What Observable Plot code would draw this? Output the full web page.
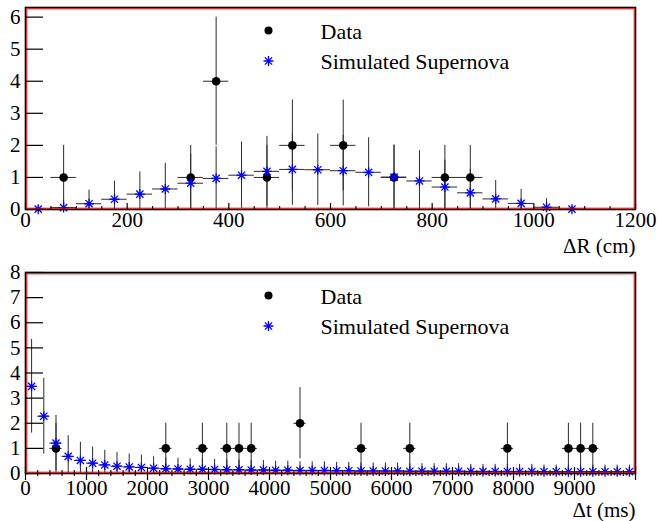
<!DOCTYPE html>
<html>
<head>
<meta charset="utf-8">
<script src="https://cdn.jsdelivr.net/npm/d3@7"></script>
<script src="https://cdn.jsdelivr.net/npm/@observablehq/plot@0.6"></script>
<style>
  html, body { margin: 0; padding: 0; background: #fff; }
  #chart svg { display: block; }
  #chart svg text { font-family: "Liberation Serif" !important; }
</style>
</head>
<body>
<div id="chart"></div>
<script>
// ---------- Top panel: ΔR (cm) ----------
const drSimX = [25, 75, 125, 175, 225, 275, 325, 375, 425, 475, 525, 575, 625, 675, 725, 775, 825, 875, 925, 975, 1025, 1075];
const drSimY = [0.01, 0.06, 0.18, 0.32, 0.48, 0.64, 0.82, 0.97, 1.07, 1.19, 1.25, 1.24, 1.21, 1.16, 1.01, 0.89, 0.70, 0.52, 0.33, 0.19, 0.07, 0.01];
const drDataX = [75, 325, 375, 475, 525, 625, 725, 825, 875];
const drDataY = [1, 1, 4, 1, 2, 2, 1, 1, 1];
const drBinWidth = 50;
const drXTicks = [0, 200, 400, 600, 800, 1000, 1200];
const drXMinor = [50, 100, 150, 250, 300, 350, 450, 500, 550, 650, 700, 750, 850, 900, 950, 1050, 1100, 1150];
const drYTicks = [0, 1, 2, 3, 4, 5, 6];

// ---------- Bottom panel: Δt (ms) ----------
const dtSimX = [100, 300, 500, 700, 900, 1100, 1300, 1500, 1700, 1900,
  2100, 2300, 2500, 2700, 2900, 3100, 3300, 3500, 3700, 3900,
  4100, 4300, 4500, 4700, 4900, 5100, 5300, 5500, 5700, 5900,
  6100, 6300, 6500, 6700, 6900, 7100, 7300, 7500, 7700, 7900,
  8100, 8300, 8500, 8700, 8900, 9100, 9300, 9500, 9700, 9900];
const dtSimY = [3.47, 2.28, 1.21, 0.68, 0.52, 0.41, 0.34, 0.29, 0.26, 0.24,
  0.21, 0.19, 0.18, 0.17, 0.17, 0.16, 0.15, 0.15, 0.14, 0.14,
  0.13, 0.13, 0.12, 0.12, 0.12, 0.11, 0.11, 0.10, 0.10, 0.10,
  0.10, 0.09, 0.09, 0.09, 0.09, 0.09, 0.08, 0.08, 0.08, 0.08,
  0.08, 0.08, 0.07, 0.07, 0.07, 0.07, 0.07, 0.07, 0.07, 0.07];
const dtDataX = [500, 2300, 2900, 3300, 3500, 3700, 4500, 5500, 6300, 7900, 8900, 9100, 9300];
const dtDataY = [1, 1, 1, 1, 1, 1, 2, 1, 1, 1, 1, 1, 1];
const dtBinWidth = 200;
const dtXTicks = [0, 1000, 2000, 3000, 4000, 5000, 6000, 7000, 8000, 9000];
const dtXMajorMarks = [0, 1000, 2000, 3000, 4000, 5000, 6000, 7000, 8000, 9000, 10000];
const dtXMinor = [200, 400, 600, 800, 1200, 1400, 1600, 1800, 2200, 2400, 2600, 2800,
  3200, 3400, 3600, 3800, 4200, 4400, 4600, 4800, 5200, 5400, 5600, 5800,
  6200, 6400, 6600, 6800, 7200, 7400, 7600, 7800, 8200, 8400, 8600, 8800,
  9200, 9400, 9600, 9800];
const dtYTicks = [0, 1, 2, 3, 4, 5, 6, 7, 8];

const legendLabels = ["Data", "Simulated Supernova"];

const FONT = "Liberation Serif";

// ROOT-style "*" marker
const asterisk = {
  draw(ctx, size) {
    const r = Math.sqrt(size / Math.PI);
    const d = r * 0.72;
    ctx.moveTo(-r, 0); ctx.lineTo(r, 0);
    ctx.moveTo(0, -r); ctx.lineTo(0, r);
    ctx.moveTo(-d, -d); ctx.lineTo(d, d);
    ctx.moveTo(-d, d); ctx.lineTo(d, -d);
  }
};

function panel(o) {
  const sim = o.simX.map((x, i) => ({x, y: o.simY[i], e: Math.sqrt(o.simY[i])}));
  const data = o.dataX.map((x, i) => ({x, y: o.dataY[i], e: Math.sqrt(o.dataY[i])}));
  const half = o.binWidth / 2;
  const barColor = "#2a2a2a";
  const marks = [
    // error bars: data
    Plot.ruleX(data, {x: "x", y1: d => Math.max(0, d.y - d.e), y2: d => d.y + d.e, stroke: barColor, strokeWidth: 1}),
    Plot.ruleY(data, {y: "y", x1: d => d.x - half, x2: d => d.x + half, stroke: barColor, strokeWidth: 1}),
    // error bars: simulation
    Plot.ruleX(sim, {x: "x", y1: d => Math.max(0, d.y - d.e), y2: d => d.y + d.e, stroke: barColor, strokeWidth: 1}),
    Plot.ruleY(sim, {y: "y", x1: d => d.x - half, x2: d => d.x + half, stroke: barColor, strokeWidth: 1}),
    // markers
    Plot.dot(data, {x: "x", y: "y", r: 4.3, fill: "black", stroke: "none"}),
    Plot.dot(sim, {x: "x", y: "y", r: 5, symbol: asterisk, stroke: "#0000ff", fill: "none", strokeWidth: 1.3}),
    // frame
    Plot.frame({stroke: "black", strokeWidth: 1.6}),
    Plot.frame({stroke: "#e00000", strokeWidth: 1, inset: 1.3}),
    // y axis: inward ticks + labels
    Plot.axisY(o.yTicks, {tickSize: -18, fill: "none", stroke: "black", strokeWidth: 1.2, label: null}),
    Plot.axisY(o.yTicks, {tickSize: 0, tickPadding: 5, stroke: "none", label: null, fontSize: 21, fontFamily: FONT, tickFormat: d => String(d)}),
    // x axis ticks
    Plot.axisX(o.xMajorMarks, {tickSize: -6, fill: "none", stroke: "black", strokeWidth: 1.2, label: null}),
    Plot.axisX(o.xMinor, {tickSize: -3, fill: "none", stroke: "black", strokeWidth: 1.1, label: null}),
    ...(o.outTicks ? [
      Plot.axisX(o.xMajorMarks, {tickSize: 7, fill: "none", stroke: "black", strokeWidth: 1.2, label: null}),
      Plot.axisX(o.xMinor, {tickSize: 3, fill: "none", stroke: "black", strokeWidth: 1.1, label: null})
    ] : []),
    Plot.axisX(o.xTicks, {tickSize: 0, tickPadding: o.labelPad, stroke: "none", label: null, fontSize: 21, fontFamily: FONT, tickFormat: d => String(d)}),
    // axis title
    Plot.text([o.title], {frameAnchor: "bottom-right", dy: 36.5, textAnchor: "end", lineAnchor: "middle", fontSize: 21, fontFamily: FONT, fill: "black"}),
    // legend
    Plot.dot([legendLabels[0]], {frameAnchor: "top-left", dx: 243, dy: 23, r: 4, fill: "black", stroke: "none"}),
    Plot.dot([legendLabels[1]], {frameAnchor: "top-left", dx: 243, dy: 53.5, r: 5, symbol: asterisk, stroke: "#0000ff", fill: "none", strokeWidth: 1.3}),
    Plot.text([legendLabels[0]], {frameAnchor: "top-left", dx: 295, dy: 24, textAnchor: "start", lineAnchor: "middle", fontSize: 22, fontFamily: FONT, fill: "black"}),
    Plot.text([legendLabels[1]], {frameAnchor: "top-left", dx: 295, dy: 54.5, textAnchor: "start", lineAnchor: "middle", fontSize: 22, fontFamily: FONT, fill: "black"})
  ];
  return Plot.plot({
    width: 658,
    height: o.height,
    marginLeft: 25,
    marginRight: 23,
    marginTop: o.marginTop,
    marginBottom: o.marginBottom,
    style: {fontFamily: FONT, fontSize: "21px", background: "white", color: "black", overflow: "visible"},
    x: {domain: o.xDomain},
    y: {domain: o.yDomain},
    marks
  });
}

const chart = document.getElementById("chart");
chart.appendChild(panel({
  height: 260, marginTop: 7, marginBottom: 51,
  xDomain: [0, 1200], yDomain: [0, 6.3],
  simX: drSimX, simY: drSimY, dataX: drDataX, dataY: drDataY, binWidth: drBinWidth,
  xTicks: drXTicks, xMajorMarks: drXTicks, xMinor: drXMinor, yTicks: drYTicks,
  outTicks: false, labelPad: 3, title: "ΔR (cm)"
}));
chart.appendChild(panel({
  height: 261, marginTop: 12, marginBottom: 48,
  xDomain: [0, 10000], yDomain: [0, 8],
  simX: dtSimX, simY: dtSimY, dataX: dtDataX, dataY: dtDataY, binWidth: dtBinWidth,
  xTicks: dtXTicks, xMajorMarks: dtXMajorMarks, xMinor: dtXMinor, yTicks: dtYTicks,
  outTicks: true, labelPad: 7, title: "Δt (ms)"
}));
</script>
</body>
</html>
